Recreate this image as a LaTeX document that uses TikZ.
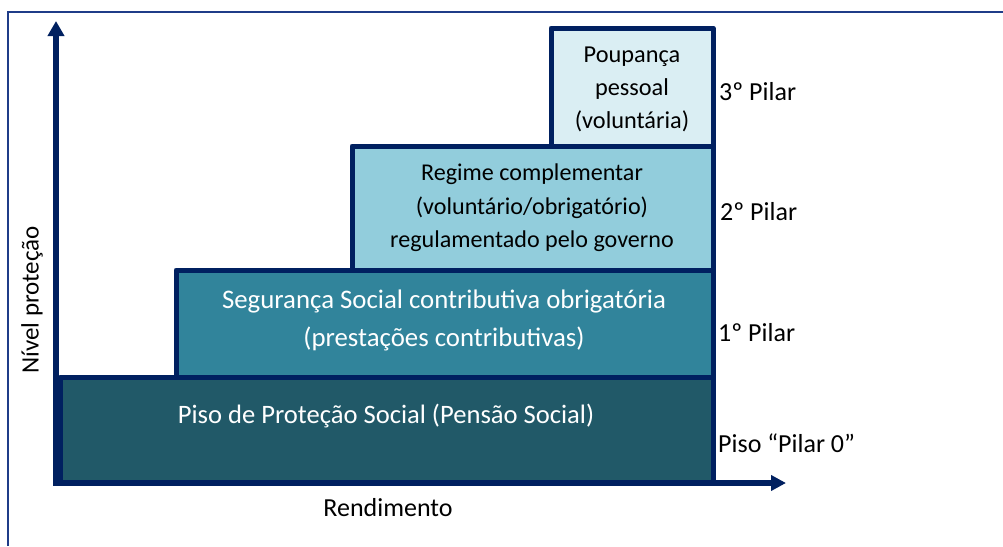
\documentclass[tikz,border=0pt]{standalone}
\usepackage{fontspec}
\setmainfont{Carlito}
\usetikzlibrary{arrows.meta}
\definecolor{navy}{HTML}{002060}
\definecolor{framec}{HTML}{1F3C88}
\definecolor{pzero}{HTML}{215968}
\definecolor{pone}{HTML}{31849B}
\definecolor{ptwo}{HTML}{92CDDC}
\definecolor{pthree}{HTML}{DAEEF3}
\begin{document}
\begin{tikzpicture}[x=1pt,y=-1pt,
  pbox/.style={draw=navy, line width=5pt, line join=round, inner sep=0pt, outer sep=0pt, anchor=north west},
  boxtext/.style={inner sep=0pt, align=center},
  lbl/.style={font=\fontsize{26}{30}\selectfont, inner sep=0pt, anchor=base west},
  axis/.style={draw=navy, line width=5.5pt, {Triangle[length=15pt,width=16pt]}-{Triangle[length=15pt,width=15pt]}}
]
\useasboundingbox (0,0) rectangle (1003,546);
\fill[white] (0,0) rectangle (1003,546);
\draw[framec, line width=1.5pt] (8,546) -- (8,12) -- (1003,12);
% boxes
\node[pbox, fill=pthree, minimum width=162pt, minimum height=118pt] (p3) at (551,28) {};
\node[pbox, fill=ptwo, minimum width=361pt, minimum height=124pt] (p2) at (352,146) {};
\node[pbox, fill=pone, minimum width=537pt, minimum height=107pt] (p1) at (176,270) {};
\node[pbox, fill=pzero, minimum width=653pt, minimum height=106pt] (p0) at (60,377) {};
% texts in boxes
\node[boxtext, font=\fontsize{24.3}{33}\selectfont] (t3) at (632,89) {Poupança\\pessoal\\(voluntária)};
\node[boxtext, font=\fontsize{24.1}{33.3}\selectfont] (t2) at (532,208) {Regime complementar\\(voluntário/obrigatório)\\regulamentado pelo governo};
\node[boxtext, font=\fontsize{26.8}{38}\selectfont, text=white] (t1) at (444,320.7) {Segurança Social contributiva obrigatória\\(prestações contributivas)};
\node[boxtext, font=\fontsize{26.6}{30}\selectfont, text=white, anchor=base] (t0) at (386,423) {Piso de Proteção Social (Pensão Social)};
% pillar labels
\node[lbl] (l3) at (719,100) {3º Pilar};
\node[lbl] (l2) at (720,220) {2º Pilar};
\node[lbl] (l1) at (718,341.7) {1º Pilar};
\node[lbl] (l0) at (718,452.7) {Piso “Pilar 0”};
% axes
\coordinate (o) at (56,483);
\coordinate (ytip) at (56,21);
\coordinate (xtip) at (786,483);
\draw[axis] (ytip) -- (o) -- (xtip);
\node[font=\fontsize{26}{30}\selectfont, inner sep=0pt, anchor=base] (xl) at (388,516.7) {Rendimento};
\node[font=\fontsize{25}{30}\selectfont, inner sep=0pt, rotate=90] (yl) at (32,300) {Nível proteção};
\end{tikzpicture}
\end{document}
